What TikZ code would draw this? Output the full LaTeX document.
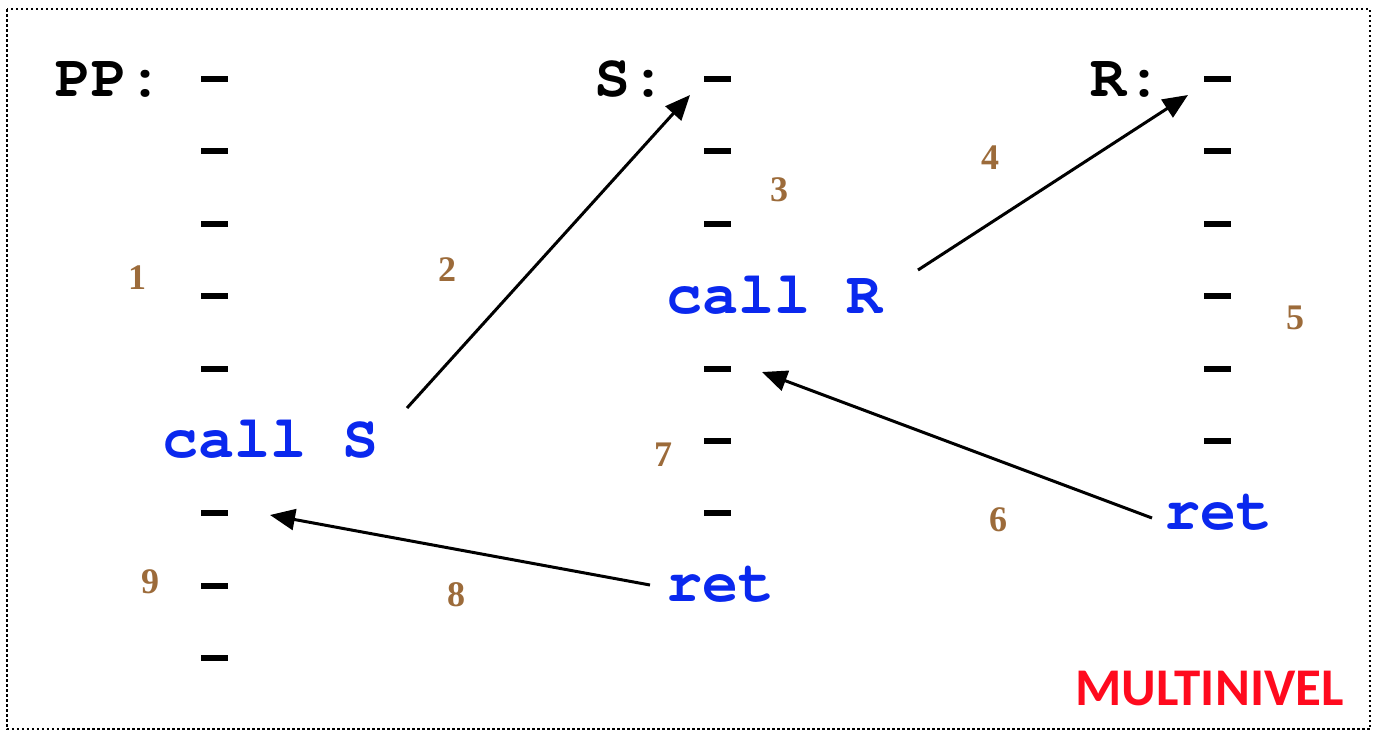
\documentclass[tikz,border=0pt]{standalone}
\usepackage{fontspec}
\setmainfont{Liberation Serif}
\newfontfamily\codefont{texgyrecursor}[Extension=.otf,UprightFont=*-regular,BoldFont=*-bold]
\newfontfamily\tagfont{Carlito}
\usetikzlibrary{arrows.meta}
\definecolor{codeblue}{HTML}{0A28EE}
\definecolor{numbrown}{HTML}{9C6B3A}
\definecolor{tagred}{HTML}{FF0A1E}
\tikzset{
  codetxt/.style={anchor=base west,inner sep=0pt,font=\codefont\bfseries\fontsize{60}{60}\selectfont},
  headtxt/.style={codetxt,text=black},
  instr/.style={codetxt,text=codeblue},
  tick/.style={fill=black,inner sep=0pt,minimum width=27pt,minimum height=6pt},
  numlbl/.style={inner sep=0pt,text=numbrown,font=\bfseries\fontsize{36}{36}\selectfont},
  flow/.style={line width=3pt,-{Triangle[length=25pt,width=21pt]},shorten >=0pt},
  tagtxt/.style={anchor=base west,inner sep=0pt,text=tagred,font=\tagfont\bfseries\fontsize{53}{53}\selectfont},
}
\begin{document}
\begin{tikzpicture}[x=1pt,y=-1pt]
\useasboundingbox (0,0) rectangle (1382,740);
\draw[line width=2.5pt,dash pattern=on 2.5pt off 2.5pt] (7,9) rectangle (1370,729);

% headers
\node[headtxt] (pp) at (55,96) {PP:};
\node[headtxt] (s) at (594,96) {S:};
\node[headtxt] (r) at (1090,96) {R:};

% PP column ticks
\foreach \k in {0,1,2,3,4,6,7,8} {
  \node[tick] (pp\k) at (214,{79+72.4*\k}) {};
}
% S column ticks
\foreach \k in {0,1,2,4,5,6} {
  \node[tick] (s\k) at (717,{79+72.4*\k}) {};
}
% R column ticks
\foreach \k in {0,1,2,3,4,5} {
  \node[tick] (r\k) at (1217,{79+72.4*\k}) {};
}

% instructions
\node[instr] (callS) at (162,457) {call S};
\node[instr] (callR) at (666,313) {call R};
\node[instr] (retR) at (1164,529) {ret};
\node[instr] (retS) at (666,601) {ret};

% arrow end points
\coordinate (a1s) at (407,408);
\coordinate (a1e) at (690,95);
\coordinate (a2s) at (918,270);
\coordinate (a2e) at (1188,95);
\coordinate (a3s) at (1152,518);
\coordinate (a3e) at (762,372);
\coordinate (a4s) at (650,585);
\coordinate (a4e) at (270,515);

\draw[flow] (a1s) -- (a1e);
\draw[flow] (a2s) -- (a2e);
\draw[flow] (a3s) -- (a3e);
\draw[flow] (a4s) -- (a4e);

% step numbers
\node[numlbl] (n1) at (137,278) {1};
\node[numlbl] (n2) at (447,270) {2};
\node[numlbl] (n3) at (779,190) {3};
\node[numlbl] (n4) at (990,158) {4};
\node[numlbl] (n5) at (1295,318) {5};
\node[numlbl] (n6) at (998,520) {6};
\node[numlbl] (n7) at (663,455) {7};
\node[numlbl] (n8) at (456,595) {8};
\node[numlbl] (n9) at (150,582) {9};

\node[tagtxt] (tag) at (1075,705) {MULTINIVEL};
\end{tikzpicture}
\end{document}
